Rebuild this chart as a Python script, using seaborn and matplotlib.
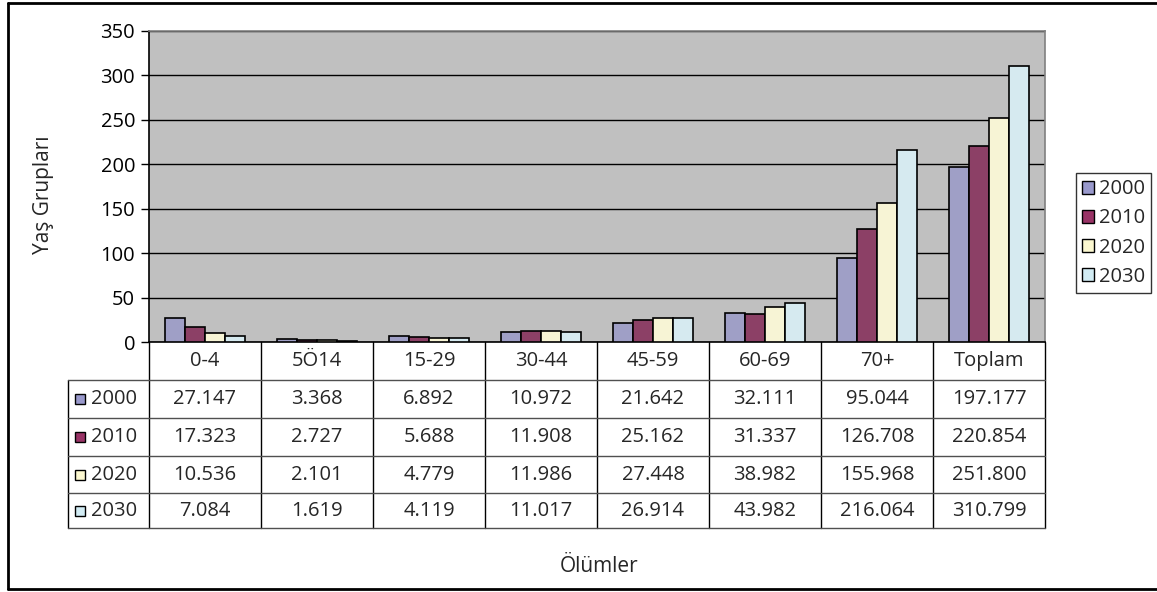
import matplotlib
matplotlib.use("Agg")
import matplotlib.pyplot as plt
import seaborn as sns
import pandas as pd
from matplotlib.lines import Line2D
from matplotlib.patches import Rectangle, Patch
from matplotlib.transforms import blended_transform_factory

categories = ["0-4", "5Ö14", "15-29", "30-44", "45-59", "60-69", "70+", "Toplam"]
years = ["2000", "2010", "2020", "2030"]
v2000 = [27.147, 3.368, 6.892, 10.972, 21.642, 32.111, 95.044, 197.177]
v2010 = [17.323, 2.727, 5.688, 11.908, 25.162, 31.337, 126.708, 220.854]
v2020 = [10.536, 2.101, 4.779, 11.986, 27.448, 38.982, 155.968, 251.800]
v2030 = [7.084, 1.619, 4.119, 11.017, 26.914, 43.982, 216.064, 310.799]
labels_2000 = ["27.147", "3.368", "6.892", "10.972", "21.642", "32.111", "95.044", "197.177"]
labels_2010 = ["17.323", "2.727", "5.688", "11.908", "25.162", "31.337", "126.708", "220.854"]
labels_2020 = ["10.536", "2.101", "4.779", "11.986", "27.448", "38.982", "155.968", "251.800"]
labels_2030 = ["7.084", "1.619", "4.119", "11.017", "26.914", "43.982", "216.064", "310.799"]
colors = ["#9999CC", "#993366", "#FCF8D0", "#D2ECF4"]

series = [v2000, v2010, v2020, v2030]
table_text = [labels_2000, labels_2010, labels_2020, labels_2030]

rows = []
for y, vals in zip(years, series):
    for c, v in zip(categories, vals):
        rows.append({"Kategori": c, "Yıl": y, "Değer": v})
df = pd.DataFrame(rows)

sns.set_theme(style="white")
FONT = ["Open Sans", "DejaVu Sans"]
plt.rcParams["font.family"] = FONT
FS = 14.5

W, H = 1157, 592
fig = plt.figure(figsize=(W / 100, H / 100), dpi=100)
fig.patch.set_facecolor("white")

def fx(px):
    return px / W

def fy(py):
    return 1 - py / H

L, R, T, B = 149, 1045, 31, 342
ax = fig.add_axes([fx(L), fy(B), fx(R) - fx(L), fy(T) - fy(B)])
ax.set_facecolor("#C0C0C0")

sns.barplot(data=df, x="Kategori", y="Değer", hue="Yıl", order=categories,
            hue_order=years, palette=colors, width=0.72, edgecolor="black",
            linewidth=1.2, ax=ax, legend=False, zorder=3)

ax.set_ylim(0, 350)
ax.set_yticks(range(0, 351, 50))
ax.set_xticks([])
ax.set_xlabel("")
ax.set_ylabel("")
ax.yaxis.grid(True, color="black", linewidth=1, zorder=1)
ax.set_axisbelow(True)
ax.tick_params(axis="y", direction="out", length=6, width=1, color="black",
               labelsize=FS, pad=4, left=True)
for lab in ax.get_yticklabels():
    lab.set_color("black")
ax.spines["left"].set_color("black")
ax.spines["bottom"].set_color("black")
ax.spines["top"].set_color("#808080")
ax.spines["right"].set_color("#808080")
for s in ax.spines.values():
    s.set_linewidth(1.2)

# data table below the plot
tr = blended_transform_factory(ax.transData, fig.transFigure)
row_lines = [380, 418, 456, 493, 528]
n = len(categories)
for i in range(n + 1):
    fig.add_artist(Line2D([i - 0.5, i - 0.5], [fy(B), fy(528)], transform=tr,
                          color="black", lw=1))
fig.add_artist(Line2D([fx(68), fx(68)], [fy(380), fy(528)], color="black", lw=1))
for yl in row_lines:
    fig.add_artist(Line2D([fx(68), fx(R)], [fy(yl), fy(yl)], color="#505050", lw=1))

header_y = (B + 380) / 2
for i, c in enumerate(categories):
    fig.text(i, fy(header_y), c, transform=tr, ha="center", va="center", fontsize=FS)

bounds = [380, 418, 456, 493, 528]
for r, (yr, col, texts) in enumerate(zip(years, colors, table_text)):
    yc = (bounds[r] + bounds[r + 1]) / 2
    fig.add_artist(Rectangle((fx(75), fy(yc + 5)), fx(10), 10 / H,
                             facecolor=col, edgecolor="black", lw=1))
    fig.text(fx(91), fy(yc), yr, ha="left", va="center", fontsize=FS)
    for i, t in enumerate(texts):
        fig.text(i, fy(yc), t, transform=tr, ha="center", va="center", fontsize=FS)

# legend
handles = [Patch(facecolor=c, edgecolor="black", lw=1) for c in colors]
leg = fig.legend(handles, years, loc="center left",
                 bbox_to_anchor=(fx(1076), fy(233)), bbox_transform=fig.transFigure,
                 frameon=True, fancybox=False, fontsize=FS, handlelength=0.6,
                 handleheight=0.6, handletextpad=0.25, labelspacing=0.45,
                 borderpad=0.3, borderaxespad=0)
leg.get_frame().set_edgecolor("black")
leg.get_frame().set_linewidth(1)

# axis titles
fig.text(fx(43), fy(195), "Yaş Grupları", rotation=90, ha="center", va="center",
         fontsize=FS + 0.5)
fig.text(fx(599), fy(567), "Ölümler", ha="center", va="center", fontsize=FS + 0.5)

# outer frame
for xs, ys in [([8, 1170], [3, 3]), ([8, 8], [3, 589]), ([8, 1170], [589, 589])]:
    fig.add_artist(Line2D([fx(x) for x in xs], [fy(y) for y in ys], color="black", lw=2))

fig.savefig("out.png", dpi=100)
